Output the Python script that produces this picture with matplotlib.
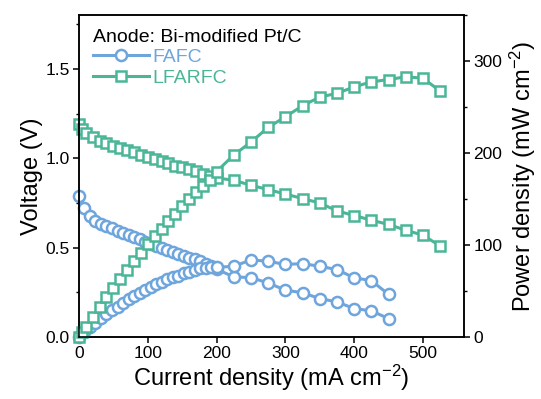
import numpy as np
import matplotlib.pyplot as plt
from matplotlib.ticker import MultipleLocator

plt.rcParams['font.family'] = ['Liberation Sans', 'DejaVu Sans']
plt.rcParams['mathtext.fontset'] = 'custom'
plt.rcParams['mathtext.rm'] = 'Liberation Sans'
plt.rcParams['mathtext.it'] = 'Liberation Sans'
plt.rcParams['mathtext.default'] = 'regular'

# FAFC polarization / power data
fafc_j = [0, 8, 16, 24, 32, 40, 48, 56, 64, 72, 80, 88, 96, 104, 112, 120, 128,
          136, 144, 152, 160, 168, 176, 184, 192, 200,
          225, 250, 275, 300, 325, 350, 375, 400, 425, 450]
fafc_v = [0.79, 0.72, 0.675, 0.65, 0.635, 0.62, 0.61, 0.595, 0.585, 0.57, 0.56,
          0.546, 0.533, 0.522, 0.512, 0.50, 0.49, 0.477, 0.465, 0.455, 0.445,
          0.437, 0.428, 0.41, 0.395, 0.38,
          0.337, 0.333, 0.303, 0.263, 0.248, 0.216, 0.197, 0.16, 0.147, 0.104]
fafc_p = [0, 5.8, 10.8, 15.6, 20.3, 24.8, 29.3, 33.3, 37.4, 41.0, 44.8, 48.0,
          51.2, 54.3, 57.3, 60.0, 62.7, 64.9, 67.0, 69.2, 71.2, 73.4, 75.3,
          75.4, 75.8, 76.0,
          77.0, 84.0, 82.5, 79.0, 80.0, 77.0, 73.5, 64.5, 61.5, 46.5]

# LFARFC polarization / power data
lfarfc_j = [0, 5, 10, 20, 30, 40, 50, 60, 70, 80, 90, 100, 110, 120, 130, 140,
            150, 160, 170, 180, 190, 200,
            225, 250, 275, 300, 325, 350, 375, 400, 425, 450, 475, 500, 525]
lfarfc_v = [1.19, 1.165, 1.14, 1.117, 1.099, 1.084, 1.07, 1.058, 1.046, 1.033,
            1.02, 1.009, 0.996, 0.983, 0.972, 0.959, 0.95, 0.94, 0.927, 0.913,
            0.90, 0.89,
            0.877, 0.849, 0.825, 0.80, 0.775, 0.75, 0.706, 0.68, 0.654, 0.63,
            0.598, 0.57, 0.51]
lfarfc_p = [0, 5.8, 11.4, 22.3, 33.0, 43.4, 53.5, 63.5, 73.2, 82.6, 91.8,
            100.9, 109.6, 118.0, 126.4, 134.3, 142.5, 150.4, 157.6, 164.3,
            171.0, 180.0,
            198.0, 212.0, 228.0, 239.5, 251.5, 261.0, 265.0, 272.0, 277.5,
            280.0, 283.0, 281.5, 267.5]

c_fafc = '#6EA5DD'
c_lfarfc = '#4BB697'

fig = plt.figure(figsize=(5.41, 3.99), dpi=100)
ax = fig.add_axes([0.146, 0.155, 0.712, 0.807])
ax2 = ax.twinx()

style = dict(lw=2.2, mfc='white', mew=1.8, clip_on=False)
ax.plot(fafc_j, fafc_v, marker='o', ms=8, color=c_fafc, label='FAFC', **style)
ax.plot(lfarfc_j, lfarfc_v, marker='s', ms=7.2, color=c_lfarfc, label='LFARFC', **style)
ax2.plot(fafc_j, fafc_p, marker='o', ms=8, color=c_fafc, **style)
ax2.plot(lfarfc_j, lfarfc_p, marker='s', ms=7.2, color=c_lfarfc, **style)

ax.set_xlim(0, 560)
ax.set_ylim(0, 1.8)
ax2.set_ylim(0, 350)

ax.xaxis.set_major_locator(MultipleLocator(100))
ax.yaxis.set_major_locator(MultipleLocator(0.5))
ax.yaxis.set_minor_locator(MultipleLocator(0.25))
ax2.yaxis.set_major_locator(MultipleLocator(100))
ax2.yaxis.set_minor_locator(MultipleLocator(50))
ax.yaxis.set_major_formatter(plt.FormatStrFormatter('%.1f'))

for a in (ax, ax2):
    a.tick_params(which='major', direction='out', length=4.5, width=1.1, labelsize=12.5, pad=2)
    a.tick_params(which='minor', direction='out', length=2.5, width=1.0)
    for s in a.spines.values():
        s.set_linewidth(1.1)

ax.set_xlabel('Current density (mA cm$^{-2}$)', fontsize=17, labelpad=1)
ax.set_ylabel('Voltage (V)', fontsize=17, labelpad=2)
ax2.set_ylabel('Power density (mW cm$^{-2}$)', fontsize=17, labelpad=4)

leg = ax.legend(loc='upper left', frameon=False, title='Anode: Bi-modified Pt/C',
                fontsize=14, title_fontsize=14, labelcolor='linecolor',
                handlelength=2.9, handletextpad=0.2, labelspacing=0.15,
                borderaxespad=0.3, alignment='left')

fig.savefig('out.png', dpi=100)
